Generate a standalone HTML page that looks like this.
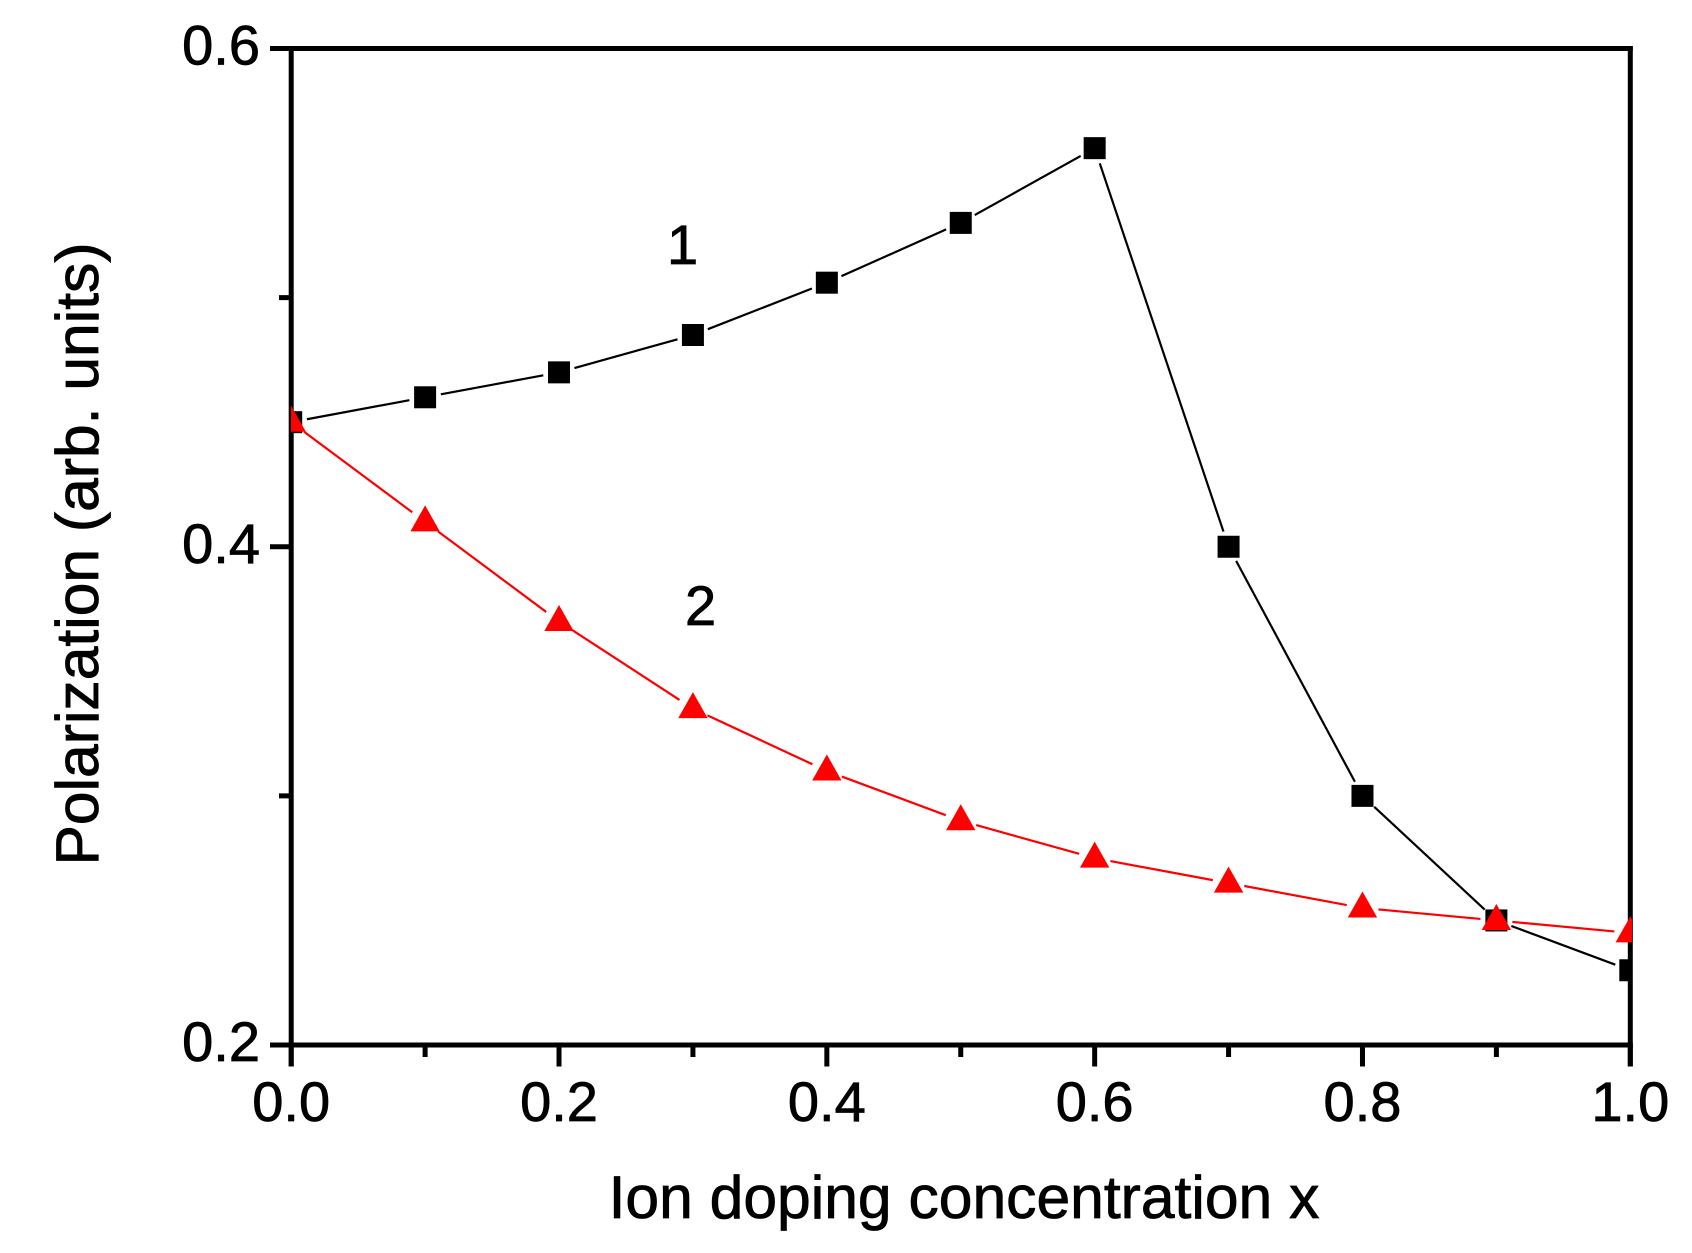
<!DOCTYPE html>
<html lang="en">
<head>
<meta charset="utf-8">
<title>Polarization vs ion doping concentration</title>
<style>
html,body{margin:0;padding:0;background:#fff;width:1692px;height:1253px;overflow:hidden}
svg{display:block}
text{font-family:"Liberation Sans",Arial,sans-serif;fill:#000;stroke:#000;stroke-width:0.8px}
</style>
</head>
<body>
<svg id="chart" xmlns="http://www.w3.org/2000/svg" width="1692" height="1253" viewBox="0 0 1692 1253">
<defs><clipPath id="plot-clip"><rect x="291" y="40" width="1341" height="1010"/></clipPath></defs>
</svg>
<script>
const xValues = [0.0,0.1,0.2,0.3,0.4,0.5,0.6,0.7,0.8,0.9,1.0];
const series1 = [0.45,0.46,0.47,0.485,0.506,0.53,0.56,0.40,0.30,0.25,0.23];
const series2 = [0.45,0.41,0.37,0.335,0.31,0.29,0.275,0.265,0.255,0.25,0.245];
const xMajorTicks = [0.0,0.2,0.4,0.6,0.8,1.0];
const xMinorTicks = [0.1,0.3,0.5,0.7,0.9];
const xTickLabels = ['0.0','0.2','0.4','0.6','0.8','1.0'];
const yMajorTicks = [0.2,0.4,0.6];
const yMinorTicks = [0.3,0.5];
const yTickLabels = ['0.2','0.4','0.6'];

const NS = 'http://www.w3.org/2000/svg';
const svg = document.getElementById('chart');
const L = 291.2, R = 1630.3, T = 48.5, B = 1045;
function xScale(v){ return L + (v - 0) / (1 - 0) * (R - L); }
function yScale(v){ return B - (v - 0.2) / (0.6 - 0.2) * (B - T); }

function make(tag, attrs, parent){
  const el = document.createElementNS(NS, tag);
  for (const k in attrs) el.setAttribute(k, attrs[k]);
  (parent || svg).appendChild(el);
  return el;
}

const axes = make('g', {});


const axisStyle = {stroke:'#000','stroke-width':5};

const topAxis = make('line', Object.assign({x1:270,y1:T,x2:R+2.5,y2:T}, axisStyle), axes);


const bottomAxis = make('line', Object.assign({x1:270,y1:B,x2:R+2.5,y2:B}, axisStyle), axes);


const leftAxis = make('line', Object.assign({x1:L,y1:T-2.5,x2:L,y2:1066.5}, axisStyle), axes);


const rightAxis = make('line', Object.assign({x1:R,y1:T-2.5,x2:R,y2:1066.5}, axisStyle), axes);



xMajorTicks.forEach(function(v, i){
  const t = make('line', Object.assign({x1:xScale(v),y1:B,x2:xScale(v),y2:1066.5}, axisStyle), axes);
  
  
  const lab = make('text', {x:xScale(v),y:1121,'text-anchor':'middle','font-size':56});
  lab.textContent = xTickLabels[i];
  
  
});
xMinorTicks.forEach(function(v){
  const t = make('line', Object.assign({x1:xScale(v),y1:B,x2:xScale(v),y2:1057}, axisStyle), axes);
  
  
});
yMajorTicks.forEach(function(v, i){
  const t = make('line', Object.assign({x1:270,y1:yScale(v),x2:L,y2:yScale(v)}, axisStyle), axes);
  
  
  const lab = make('text', {x:260,y:yScale(v)+16,'text-anchor':'end','font-size':56});
  lab.textContent = yTickLabels[i];
  
  
});
yMinorTicks.forEach(function(v){
  const t = make('line', Object.assign({x1:279,y1:yScale(v),x2:L,y2:yScale(v)}, axisStyle), axes);
  
  
});

const GAP = 16;
function drawSeries(values, color, name, marker){
  const g = make('g', {'clip-path':'url(#plot-clip)'});
  
  
  for (let i = 0; i < values.length - 1; i++){
    const x1 = xScale(xValues[i]), y1 = yScale(values[i]);
    const x2 = xScale(xValues[i+1]), y2 = yScale(values[i+1]);
    const d = Math.hypot(x2 - x1, y2 - y1);
    const ux = (x2 - x1) / d, uy = (y2 - y1) / d;
    const seg = make('line', {x1:x1+ux*GAP,y1:y1+uy*GAP,x2:x2-ux*GAP,y2:y2-uy*GAP,stroke:color,'stroke-width':2.2}, g);
    
    
  }
  values.forEach(function(v, i){ marker(g, xScale(xValues[i]), yScale(v), color, name); });
}
function squareMarker(g, cx, cy, color, name){
  const m = make('rect', {x:cx-11,y:cy-11,width:22,height:22,fill:color}, g);
  
  
}
function triangleMarker(g, cx, cy, color, name){
  const m = make('path', {d:'M'+cx+' '+(cy-16.5)+'L'+(cx+14.7)+' '+(cy+9.5)+'L'+(cx-14.7)+' '+(cy+9.5)+'Z',fill:color}, g);
  
  
}
drawSeries(series1, '#000000', 'series-1', squareMarker);
drawSeries(series2, '#ff0000', 'series-2', triangleMarker);

const label1 = make('text', {x:667,y:264,'font-size':56});
label1.textContent = '1';


const label2 = make('text', {x:685,y:625,'font-size':56});
label2.textContent = '2';



const xTitle = make('text', {x:964,y:1218,'text-anchor':'middle','font-size':60.6});
xTitle.textContent = 'Ion doping concentration x';


const yTitle = make('text', {x:0,y:0,'text-anchor':'middle','font-size':60.6,transform:'translate(98 554) rotate(-90)'});
yTitle.textContent = 'Polarization (arb. units)';


</script>
</body>
</html>
